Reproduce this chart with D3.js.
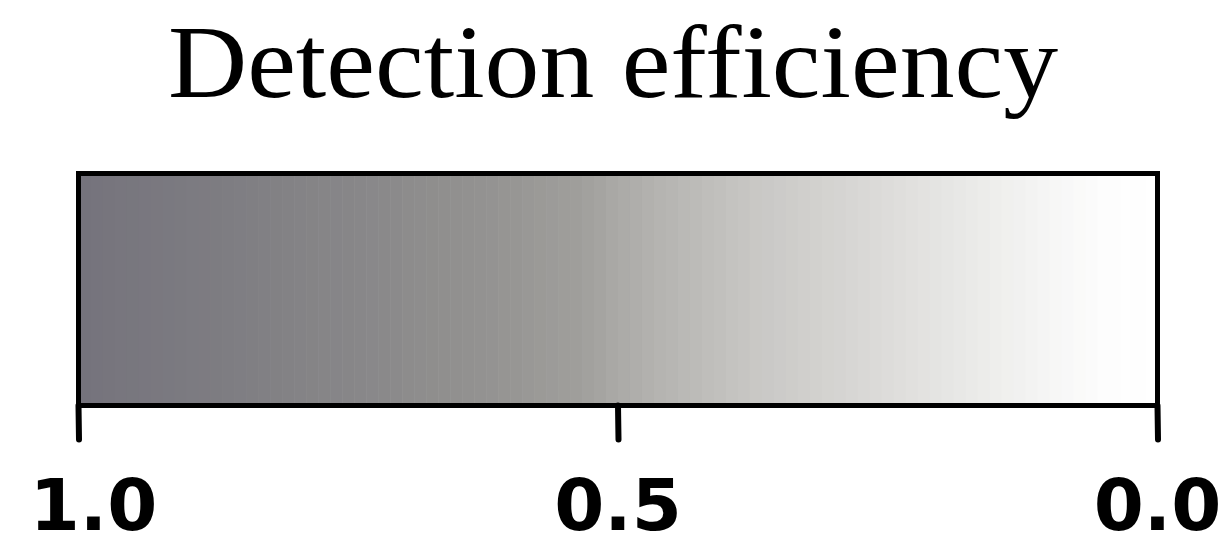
<!DOCTYPE html>
<html>
<head>
<meta charset="utf-8">
<script src="https://cdn.jsdelivr.net/npm/d3@7"></script>
<style>
  body { margin: 0; background: #fff; }
  .tick-label { font-family: "DejaVu Sans", sans-serif; font-weight: bold; }
</style>
</head>
<body>
<div id="chart"></div>
<script>

// colour stops of the detection efficiency bar (efficiency -> colour)
const stopValues = [1.0, 0.86, 0.72, 0.61, 0.535, 0.47, 0.37, 0.285, 0.19, 0.10, 0.05, 0.0];
const stopColors = ["#75737c", "#7e7d82", "#8a898a", "#959492", "#a09f9c", "#b3b2af",
                    "#c9c8c5", "#d7d6d4", "#e7e7e5", "#f6f6f5", "#fdfdfd", "#ffffff"];
const tickValues = [1.0, 0.5, 0.0];
const tickLabels = ["1.0", "0.5", "0.0"];
const titleText = "Detection efficiency";

let width = 1229, height = 548;
let margin = {left: 78.5, right: 71.5, top: 173.5, bottom: 142.5};

let svg = d3.select("#chart").append("svg")
    .attr("width", width)
    .attr("height", height);

// scales
let x = d3.scaleLinear()
    .domain([1, 0])
    .range([margin.left, width - margin.right]);

let color = d3.scaleLinear()
    .domain(stopValues)
    .range(stopColors);

let barTop = margin.top, barBottom = height - margin.bottom;

// colour cells, like a stepped colorbar
let nCells = 90;
let cells = d3.range(nCells).map(i => 1 - i / nCells);

svg.selectAll("rect.cell")
    .data(cells)
    .enter()
    .append("rect")
    .attr("class", "cell")
    .attr("x", d => x(d))
    .attr("y", barTop)
    .attr("width", x(0) - x(1 / nCells) + 0.6)
    .attr("height", barBottom - barTop)
    .attr("fill", d => color(d - 0.5 / nCells));

// frame
svg.append("rect")
    .attr("x", x(1))
    .attr("y", barTop)
    .attr("width", x(0) - x(1))
    .attr("height", barBottom - barTop)
    .attr("fill", "none")
    .attr("stroke", "#000")
    .attr("stroke-width", 5);

// ticks
svg.selectAll("line.tick")
    .data(tickValues)
    .enter()
    .append("line")
    .attr("class", "tick")
    .attr("x1", d => x(d))
    .attr("x2", d => x(d) + 0.5)
    .attr("y1", barBottom)
    .attr("y2", barBottom + 34)
    .attr("stroke", "#000")
    .attr("stroke-width", 6)
    .attr("stroke-linecap", "round");

svg.selectAll("text.tick-label")
    .data(tickValues)
    .enter()
    .append("text")
    .attr("class", "tick-label")
    .attr("x", (d, i) => x(d) + (i === 0 ? 15 : 0))
    .attr("y", 530)
    .attr("text-anchor", "middle")
    .attr("font-size", 72)
    .text((d, i) => tickLabels[i]);

// title
svg.append("text")
    .attr("class", "title")
    .attr("x", 613)
    .attr("y", 97)
    .attr("text-anchor", "middle")
    .attr("font-family", "'Liberation Serif', 'DejaVu Serif', serif")
    .attr("font-size", 104)
    .attr("textLength", 890)
    .attr("lengthAdjust", "spacingAndGlyphs")
    .text(titleText);

</script>
</body>
</html>
